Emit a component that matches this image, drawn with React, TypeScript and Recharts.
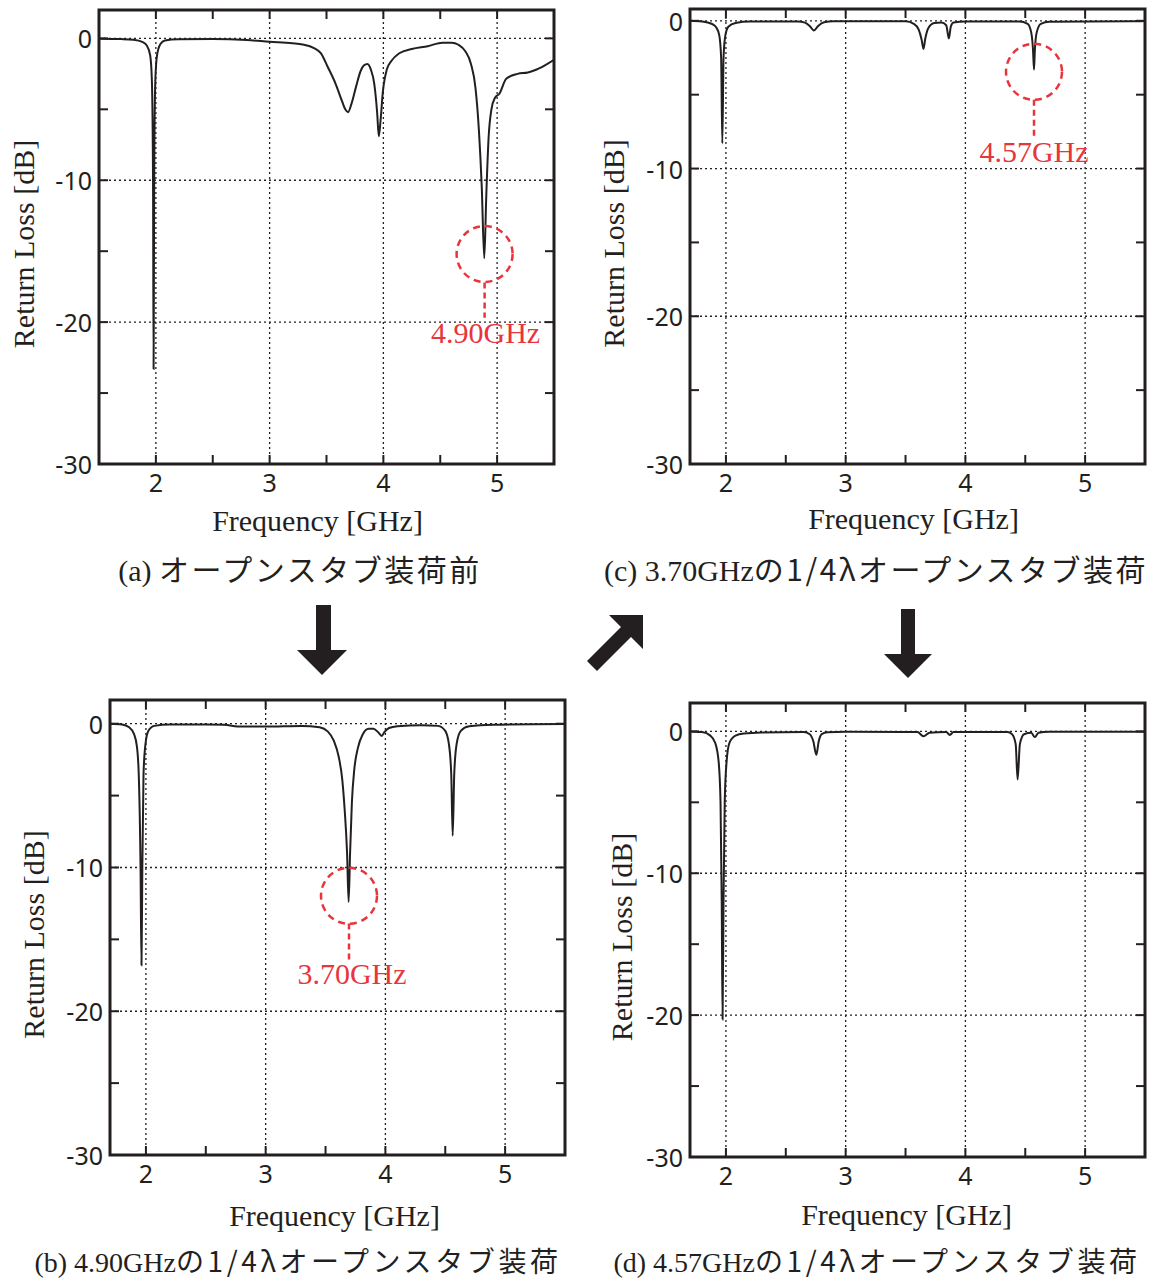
import React from "react";
import {
  LineChart,
  Line,
  XAxis,
  YAxis,
  ReferenceLine,
  ReferenceArea,
  ReferenceDot,
} from "recharts";

// (a) before loading the open stub
const freqA = [
  1.5, 1.7, 1.8, 1.88, 1.92, 1.95, 1.965, 1.975, 1.98, 1.985, 1.995, 2.01, 2.04, 2.08, 2.2, 2.5,
  2.8, 3.0, 3.2, 3.29, 3.39, 3.45, 3.51, 3.58, 3.64, 3.665, 3.69, 3.72, 3.76, 3.8, 3.83, 3.86,
  3.89, 3.92, 3.945, 3.96, 3.975, 3.995, 4.03, 4.07, 4.14, 4.25, 4.39, 4.52, 4.6, 4.66, 4.72,
  4.77, 4.81, 4.84, 4.865, 4.887, 4.905, 4.925, 4.95, 4.98, 5.02, 5.08, 5.18, 5.27, 5.33, 5.42, 5.5,
];
const lossA = [
  -0.02, -0.05, -0.1, -0.25, -0.5, -1.2, -3, -10, -23.3, -10, -3, -1.2, -0.4, -0.15, -0.07, -0.05,
  -0.12, -0.24, -0.35, -0.43, -0.68, -1.04, -2.0, -3.2, -4.5, -5.0, -5.2, -4.6, -3.4, -2.3, -1.9,
  -1.8, -2.2, -3.2, -5.2, -6.9, -5.8, -3.8, -2.2, -1.6, -1.05, -0.75, -0.55, -0.3, -0.3, -0.45,
  -0.9, -1.8, -3.5, -6.5, -10.5, -15.5, -11, -7, -5, -4.2, -3.9, -2.85, -2.5, -2.4, -2.25, -1.9, -1.52,
];

// (b) with 4.90 GHz quarter-wave open stub
const freqB = [
  1.7, 1.8, 1.86, 1.9, 1.925, 1.94, 1.955, 1.963, 1.97, 1.98, 1.995, 2.02, 2.07, 2.2, 2.5, 2.65,
  2.8, 3.0, 3.3, 3.45, 3.52, 3.57, 3.61, 3.64, 3.66, 3.68, 3.693, 3.705, 3.72, 3.74, 3.77, 3.81,
  3.86, 3.9, 3.94, 3.97, 3.99, 4.03, 4.1, 4.3, 4.44, 4.5, 4.53, 4.55, 4.562, 4.575, 4.595, 4.63,
  4.7, 4.9, 5.5,
];
const lossB = [
  0, -0.05, -0.25, -0.7, -1.6, -3.5, -10, -16.8, -10, -3.5, -1.5, -0.5, -0.15, -0.05, -0.05, -0.08,
  -0.2, -0.2, -0.15, -0.25, -0.55, -1.2, -2.3, -3.9, -6, -9, -12.4, -9, -5.5, -3.2, -1.7, -0.75,
  -0.35, -0.35, -0.6, -0.85, -0.6, -0.3, -0.17, -0.1, -0.15, -0.5, -1.4, -3.5, -7.8, -3.5, -1.4,
  -0.5, -0.18, -0.07, -0.02,
];

// (c) with 3.70 GHz quarter-wave open stub
const freqC = [
  1.7, 1.8, 1.88, 1.92, 1.945, 1.96, 1.97, 1.98, 1.995, 2.02, 2.08, 2.2, 2.6, 2.66, 2.7, 2.735,
  2.77, 2.82, 2.9, 3.5, 3.57, 3.61, 3.635, 3.65, 3.665, 3.69, 3.74, 3.8, 3.84, 3.862, 3.878, 3.9,
  4.0, 4.45, 4.52, 4.55, 4.565, 4.573, 4.58, 4.595, 4.63, 4.7, 5.5,
];
const lossC = [
  0, -0.05, -0.2, -0.45, -1.0, -2.5, -8.3, -2.5, -1.0, -0.4, -0.15, -0.05, -0.05, -0.12, -0.35,
  -0.65, -0.35, -0.1, -0.03, -0.03, -0.2, -0.6, -1.3, -1.9, -1.2, -0.5, -0.15, -0.12, -0.3, -1.2,
  -0.4, -0.12, -0.05, -0.05, -0.2, -0.8, -2.0, -3.3, -2.0, -0.8, -0.2, -0.06, -0.02,
];

// (d) with 4.57 GHz quarter-wave open stub
const freqD = [
  1.7, 1.8, 1.87, 1.91, 1.94, 1.955, 1.965, 1.972, 1.98, 1.99, 2.005, 2.03, 2.08, 2.15, 2.3, 2.65,
  2.7, 2.73, 2.755, 2.775, 2.8, 2.85, 3.0, 3.6, 3.65, 3.7, 3.84, 3.87, 3.9, 4.35, 4.39, 4.42, 4.436,
  4.455, 4.49, 4.55, 4.58, 4.61, 4.7, 5.5,
];
const lossD = [
  0, -0.05, -0.3, -0.8, -2.2, -5, -12, -20.3, -12, -5, -2.2, -0.8, -0.3, -0.15, -0.08, -0.05, -0.2,
  -0.7, -1.65, -0.7, -0.2, -0.07, -0.03, -0.05, -0.35, -0.1, -0.05, -0.25, -0.05, -0.05, -0.2, -0.9,
  -3.4, -0.9, -0.2, -0.1, -0.4, -0.1, -0.03, -0.02,
];

const xTicks = [2, 2.5, 3, 3.5, 4, 4.5, 5];
const xMajor = [2, 3, 4, 5];
const yTicks = [0, -5, -10, -15, -20, -25, -30];
const yMajor = [0, -10, -20];

const INK = "#231f20";
const RED = "#e8353c";
const SERIF = "'Liberation Serif', 'Times New Roman', serif";
const SANS = "'Noto Sans', 'DejaVu Sans', sans-serif";
const CJK = "'Noto Sans CJK JP', sans-serif";

type Mark = { f: number; v: number; y1: number; y2: number; text: string; dx: number };

type Panel = {
  id: string;
  freq: number[];
  loss: number[];
  plotLeft: number;
  plotTop: number;
  plotW: number;
  plotH: number;
  xMin: number;
  yMax: number;
  yTitleDx: number;
  xTitleDx: number;
  xTitleDy: number;
  mark?: Mark;
};

const panels: Panel[] = [
  {
    id: "a", freq: freqA, loss: lossA, plotLeft: 99, plotTop: 10, plotW: 455, plotH: 454,
    xMin: 1.5, yMax: 2, yTitleDx: -76, xTitleDx: -9, xTitleDy: 56,
    mark: { f: 4.89, v: -15.2, y1: -17.2, y2: -19.7, text: "4.90GHz", dx: 1 },
  },
  {
    id: "c", freq: freqC, loss: lossC, plotLeft: 690, plotTop: 9, plotW: 455, plotH: 455,
    xMin: 1.7, yMax: 0.8, yTitleDx: -77, xTitleDx: -4, xTitleDy: 54,
    mark: { f: 4.573, v: -3.45, y1: -5.35, y2: -7.85, text: "4.57GHz", dx: 0 },
  },
  {
    id: "b", freq: freqB, loss: lossB, plotLeft: 110, plotTop: 700, plotW: 455, plotH: 455,
    xMin: 1.7, yMax: 1.65, yTitleDx: -77, xTitleDx: -3, xTitleDy: 60,
    mark: { f: 3.696, v: -11.97, y1: -13.9, y2: -16.4, text: "3.70GHz", dx: 3 },
  },
  {
    id: "d", freq: freqD, loss: lossD, plotLeft: 690, plotTop: 703, plotW: 455, plotH: 454,
    xMin: 1.7, yMax: 2, yTitleDx: -69, xTitleDx: -11, xTitleDy: 57,
  },
];

const Y_AXIS_W = 95;
const M_TOP = 8;
const M_RIGHT = 8;
const X_AXIS_H = 85;

const makeXTick = (plotH: number) => (props: any) => {
  const { x, y, payload } = props;
  const v = payload.value as number;
  return (
    <g>
      <line x1={x} x2={x} y1={y} y2={y - 9} stroke={INK} strokeWidth={2} />
      <line x1={x} x2={x} y1={y - plotH} y2={y - plotH + 9} stroke={INK} strokeWidth={2} />
      {Number.isInteger(v) && (
        <text x={x} y={y + 18} textAnchor="middle" dominantBaseline="central"
          fontFamily={SANS} fontSize={25} fill={INK}>
          {v}
        </text>
      )}
    </g>
  );
};

const makeYTick = (plotW: number) => (props: any) => {
  const { x, y, payload } = props;
  const v = payload.value as number;
  return (
    <g>
      <line x1={x} x2={x + 9} y1={y} y2={y} stroke={INK} strokeWidth={2} />
      <line x1={x + plotW} x2={x + plotW - 9} y1={y} y2={y} stroke={INK} strokeWidth={2} />
      {v % 10 === 0 && (
        <text x={x - 7} y={y} textAnchor="end" dominantBaseline="central"
          fontFamily={SANS} fontSize={25} fill={INK}>
          {v}
        </text>
      )}
    </g>
  );
};

function RLChart({ p }: { p: Panel }) {
  const data = p.freq.map((f, i) => ({ f, v: p.loss[i] }));
  const width = Y_AXIS_W + p.plotW + M_RIGHT;
  const height = M_TOP + p.plotH + X_AXIS_H;
  return (
    <div style={{ position: "absolute", left: p.plotLeft - Y_AXIS_W, top: p.plotTop - M_TOP }}>
      <LineChart width={width} height={height} data={data}
        margin={{ top: M_TOP, right: M_RIGHT, left: 0, bottom: 0 }}>
        <XAxis dataKey="f" type="number" domain={[p.xMin, 5.5]} ticks={xTicks} interval={0}
          allowDataOverflow tickSize={0} tickMargin={0} axisLine={false} tickLine={false}
          height={X_AXIS_H} tick={makeXTick(p.plotH)}
          label={{
            content: ({ viewBox }: any) => (
              <text x={viewBox.x + viewBox.width / 2 + p.xTitleDx} y={viewBox.y + p.xTitleDy}
                textAnchor="middle" dominantBaseline="central" fontFamily={SERIF}
                fontSize={30} fill={INK}>
                Frequency [GHz]
              </text>
            ),
          }}
        />
        <YAxis type="number" domain={[-30, p.yMax]} ticks={yTicks} interval={0}
          allowDataOverflow tickSize={0} tickMargin={0} axisLine={false} tickLine={false}
          width={Y_AXIS_W} tick={makeYTick(p.plotW)}
          label={{
            content: ({ viewBox }: any) => {
              const cx = viewBox.x + viewBox.width + p.yTitleDx;
              const cy = viewBox.y + viewBox.height / 2 + 7;
              return (
                <text x={cx} y={cy} transform={`rotate(-90, ${cx}, ${cy})`} textAnchor="middle"
                  dominantBaseline="central" fontFamily={SERIF} fontSize={30} fill={INK}>
                  Return Loss [dB]
                </text>
              );
            },
          }}
        />
        {xMajor.map((v) => (
          <ReferenceLine key={`gx${v}`} x={v} stroke={INK} strokeWidth={1.3} strokeDasharray="2 3" />
        ))}
        {yMajor.map((v) => (
          <ReferenceLine key={`gy${v}`} y={v} stroke={INK} strokeWidth={1.3} strokeDasharray="2 3" />
        ))}
        <Line type="monotone" dataKey="v" stroke={INK} strokeWidth={2} dot={false}
          isAnimationActive={false} />
        <ReferenceArea x1={p.xMin} x2={5.5} y1={-30} y2={p.yMax} fill="none" fillOpacity={0}
          stroke={INK} strokeWidth={3} />
        {p.mark && (
          <ReferenceDot x={p.mark.f} y={p.mark.v} r={28} fill="none" stroke={RED}
            strokeWidth={2.5} strokeDasharray="7 5" />
        )}
        {p.mark && (
          <ReferenceLine
            segment={[{ x: p.mark.f, y: p.mark.y1 }, { x: p.mark.f, y: p.mark.y2 }]}
            stroke={RED} strokeWidth={2.5} strokeDasharray="6 4"
            label={{
              content: ({ viewBox }: any) => (
                <text x={viewBox.x + viewBox.width / 2 + p.mark!.dx}
                  y={viewBox.y + viewBox.height + 25} textAnchor="middle"
                  fontFamily={SERIF} fontSize={30} fill={RED}>
                  {p.mark!.text}
                </text>
              ),
            }}
          />
        )}
      </LineChart>
    </div>
  );
}

const captions = [
  { latin: "(a) ", jp: "オープンスタブ装荷前", cx: 300, cy: 568, size: 30, gap: 2.5 },
  { latin: "(c) 3.70GHz", jp: "の1/4λオープンスタブ装荷", cx: 876, cy: 568, size: 30, gap: 2.5 },
  { latin: "(b) 4.90GHz", jp: "の1/4λオープンスタブ装荷", cx: 298, cy: 1260, size: 28, gap: 3.6 },
  { latin: "(d) 4.57GHz", jp: "の1/4λオープンスタブ装荷", cx: 877, cy: 1260, size: 28, gap: 3.6 },
];

export default function App() {
  return (
    <div style={{ position: "absolute", left: 0, top: 0, width: 1155, height: 1281,
      background: "#fff", overflow: "hidden" }}>
      {panels.map((p) => (
        <RLChart key={p.id} p={p} />
      ))}
      {captions.map((c, i) => (
        <div key={i} style={{ position: "absolute", left: c.cx - 300, top: c.cy - 15, width: 600,
          height: 30, lineHeight: "30px", textAlign: "center", whiteSpace: "nowrap", color: INK }}>
          <span style={{ fontFamily: SERIF, fontSize: c.size }}>{c.latin}</span>
          <span style={{ fontFamily: CJK, fontSize: c.size, letterSpacing: c.gap }}>{c.jp}</span>
        </div>
      ))}
      <svg width={1155} height={1281} style={{ position: "absolute", left: 0, top: 0,
        pointerEvents: "none" }}>
        <polygon points="316,605 331,605 331,650 347,650 322,675 297,650 316,650" fill={INK} />
        <polygon points="901,609 915,609 915,654 932,654 908,678 884,654 901,654" fill={INK} />
        <polygon points="643,615 609,615 621,627 587,661 597,671 631,637 643,649" fill={INK} />
      </svg>
    </div>
  );
}
